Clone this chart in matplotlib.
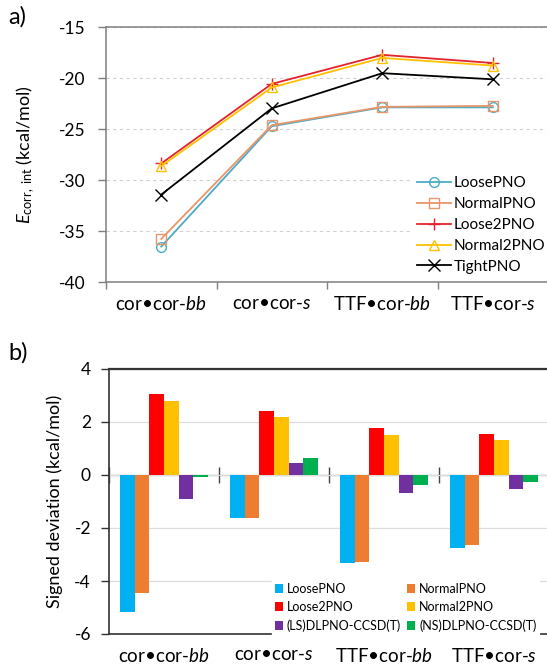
import matplotlib
matplotlib.use("Agg")
import matplotlib.pyplot as plt
import numpy as np

plt.rcParams['font.family'] = ['Lato', 'DejaVu Sans']
plt.rcParams['mathtext.fontset'] = 'custom'
plt.rcParams['mathtext.rm'] = 'Lato'
plt.rcParams['mathtext.it'] = 'Lato:italic'

categories = [r'cor•cor-$\it{bb}$', r'cor•cor-$\it{s}$', r'TTF•cor-$\it{bb}$', r'TTF•cor-$\it{s}$']

# Panel a: correlation interaction energies (kcal/mol)
series_a_names = ['LoosePNO', 'NormalPNO', 'Loose2PNO', 'Normal2PNO', 'TightPNO']
loose_pno = [-36.5, -24.7, -22.85, -22.85]
normal_pno = [-35.75, -24.6, -22.8, -22.7]
loose2_pno = [-28.35, -20.55, -17.7, -18.5]
normal2_pno = [-28.6, -20.9, -18.0, -18.75]
tight_pno = [-31.4, -22.95, -19.5, -20.1]

# Panel b: signed deviations (kcal/mol)
series_b_names = ['LoosePNO', 'NormalPNO', 'Loose2PNO', 'Normal2PNO',
                  '(LS)DLPNO-CCSD(T)', '(NS)DLPNO-CCSD(T)']
dev_loose = [-5.17, -1.64, -3.31, -2.75]
dev_normal = [-4.44, -1.61, -3.28, -2.64]
dev_loose2 = [3.04, 2.42, 1.77, 1.55]
dev_normal2 = [2.80, 2.19, 1.52, 1.33]
dev_ls = [-0.89, 0.47, -0.67, -0.53]
dev_ns = [-0.08, 0.65, -0.39, -0.25]

W, H = 547, 667
fig = plt.figure(figsize=(W / 100, H / 100), dpi=100)

# ---------------- panel a ----------------
axa = fig.add_axes([106 / W, 1 - 282.3 / H, 442 / W, (282.3 - 27.3) / H])
x = np.arange(len(categories))
line_styles = [
    (loose_pno, '#4BACC6', 'o'),
    (normal_pno, '#E8956A', 's'),
    (loose2_pno, '#E3232B', '+'),
    (normal2_pno, '#FFC000', '^'),
    (tight_pno, '#000000', 'x'),
]
handles = []
for (vals, col, mk), name in zip(line_styles, series_a_names):
    face = 'none' if mk in ('o', 's', '^') else col
    ms = 9 if mk in ('+', 'x') else 7
    h, = axa.plot(x, vals, color=col, lw=1.3, marker=mk, markersize=ms,
                  markerfacecolor=face, markeredgecolor=col, markeredgewidth=1.0,
                  label=name)
    handles.append(h)

axa.set_xlim(-0.5, len(categories) - 0.5)
axa.set_ylim(-40, -15)
axa.set_yticks([-40, -35, -30, -25, -20, -15])
axa.set_yticklabels(['-40', '-35', '-30', '-25', '-20', '-15'])
axa.yaxis.grid(True, color='#D0D0D0', linestyle=(0, (3, 3)), lw=0.8)
axa.set_axisbelow(True)
axa.set_xticks(np.arange(len(categories) + 1) - 0.5)
axa.set_xticklabels([])
axa.set_xticks(x, minor=True)
axa.set_xticklabels(categories, minor=True, fontsize=13.5)
axa.tick_params(axis='x', which='minor', length=0, pad=9)
axa.tick_params(axis='x', which='major', length=5, color='#7F7F7F', width=1)
axa.tick_params(axis='y', length=6, color='#7F7F7F', width=1, labelsize=12.5, pad=9)
for s in ['top', 'left', 'bottom']:
    axa.spines[s].set_color('#7F7F7F')
    axa.spines[s].set_linewidth(1.1)
axa.spines['right'].set_visible(False)
axa.set_ylabel(r'$E_{\mathrm{corr,\ int}}$ (kcal/mol)', fontsize=13, labelpad=4)
axa.yaxis.set_label_coords(-0.155, 0.5)
leg = axa.legend(handles=handles, loc='upper left', bbox_to_anchor=(405 / W, 1 - 164 / H),
                 bbox_transform=fig.transFigure, frameon=True, fancybox=False,
                 edgecolor='white', facecolor='white', framealpha=1, fontsize=11,
                 handlelength=2.2, handletextpad=0.2, labelspacing=0.45, borderpad=0.3)
fig.text(8 / W, 1 - 17 / H, 'a)', fontsize=17, va='center', ha='left')

# ---------------- panel b ----------------
axb = fig.add_axes([109 / W, 1 - 634 / H, 440 / W, (634 - 369) / H])
bar_series = [dev_loose, dev_normal, dev_loose2, dev_normal2, dev_ls, dev_ns]
bar_colors = ['#00B0F0', '#ED7D31', '#FF0000', '#FFC000', '#7030A0', '#00B050']
n = len(bar_series)
bw = 0.8 / n
bars = []
for i, (vals, col, name) in enumerate(zip(bar_series, bar_colors, series_b_names)):
    b = axb.bar(x - 0.4 + bw * (i + 0.5), vals, width=bw, color=col, label=name, zorder=2)
    bars.append(b)

axb.set_xlim(-0.5, len(categories) - 0.5)
axb.set_ylim(-6, 4)
axb.set_yticks([-6, -4, -2, 0, 2, 4])
axb.set_yticklabels(['-6', '-4', '-2', '0', '2', '4'])
axb.yaxis.grid(True, color='#DDDDDD', lw=0.9)
axb.set_axisbelow(True)
axb.set_xticks(x)
axb.set_xticklabels(categories, fontsize=13.5)
axb.tick_params(axis='x', length=0, pad=9)
axb.tick_params(axis='y', length=6, color='#333333', width=1, labelsize=12.5, pad=7)
for s in ['top', 'left', 'bottom']:
    axb.spines[s].set_color('#333333')
    axb.spines[s].set_linewidth(1.2)
axb.spines['top'].set_linewidth(1.6)
axb.spines['right'].set_visible(False)
axb.set_ylabel('Signed deviation (kcal/mol)', fontsize=13)
axb.yaxis.set_label_coords(-0.105, 0.5)

sec = axb.secondary_xaxis(0.6)
sec.set_xticks(np.arange(len(categories) + 1) - 0.5)
sec.set_xticklabels([])
sec.tick_params(direction='inout', length=11, color='#444444', width=1)
sec.spines['bottom'].set_color('#555555')
sec.spines['bottom'].set_linewidth(1.1)

# legend filled row-wise like the reference (column-major order for matplotlib)
order = [0, 2, 4, 1, 3, 5]
legb = axb.legend([bars[i] for i in order], [series_b_names[i] for i in order],
                  loc='upper left', bbox_to_anchor=(266 / W, 1 - 574 / H),
                  bbox_transform=fig.transFigure, ncol=2, frameon=True, fancybox=False,
                  edgecolor='white', facecolor='white', framealpha=1, fontsize=9,
                  handlelength=0.65, handleheight=0.65, handletextpad=0.3,
                  labelspacing=0.5, columnspacing=0.5, borderpad=0.2)
fig.text(8 / W, 1 - 353 / H, 'b)', fontsize=17, va='center', ha='left')

fig.savefig('out.png', dpi=100, facecolor='white')
